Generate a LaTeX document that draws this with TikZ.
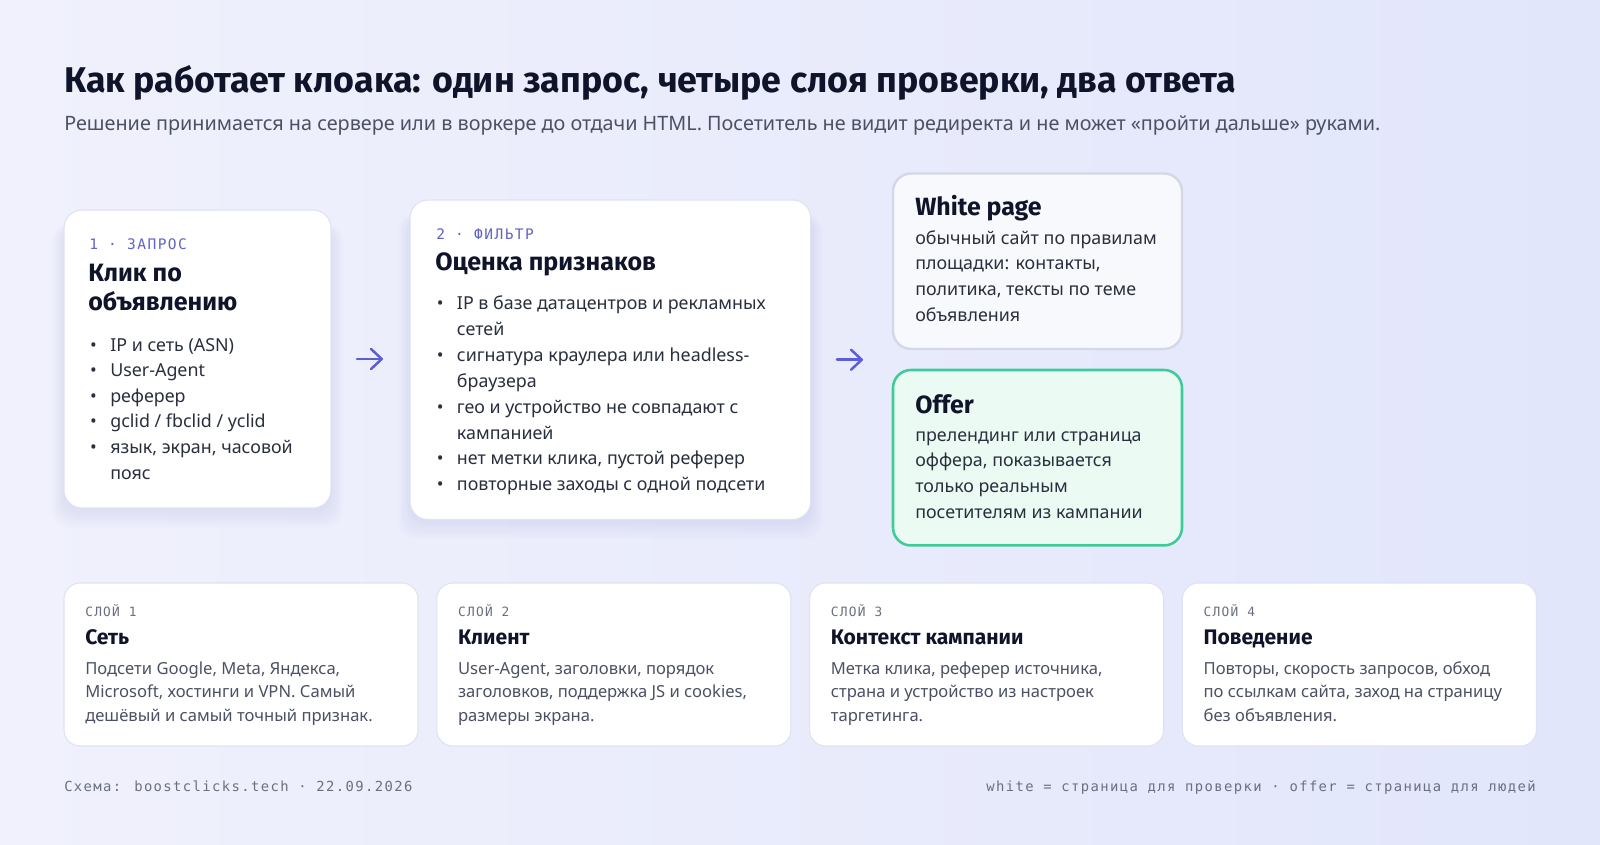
\documentclass[tikz,border=0pt]{standalone}
\usepackage{fontspec}
\setmainfont{Noto Sans}
\setmonofont{DejaVu Sans Mono}
\newfontfamily\headfont{Fira Sans}
\newfontfamily\labelmono[LetterSpace=10]{DejaVu Sans Mono}
\usetikzlibrary{positioning,arrows.meta}

\definecolor{bgleft}{HTML}{F0F1FC}
\definecolor{bgright}{HTML}{E2E6FB}
\definecolor{ink}{HTML}{10142A}
\definecolor{bodyc}{HTML}{2A2F3E}
\definecolor{mutedc}{HTML}{4B5163}
\definecolor{grayc}{HTML}{6B7080}
\definecolor{accent}{HTML}{5B5ED6}
\definecolor{labelc}{HTML}{6064C6}
\definecolor{cardline}{HTML}{DFE2F1}
\definecolor{whitefill}{HTML}{F8F9FD}
\definecolor{whiteline}{HTML}{D4D7E4}
\definecolor{offerfill}{HTML}{EBFBF3}
\definecolor{offerline}{HTML}{3DCB98}
\definecolor{shadowc}{HTML}{5A62A8}

\newcommand{\bul}{\llap{\textbullet\hspace{10pt}}}

\tikzset{
  card/.style={draw=cardline, line width=0.8pt, fill=white, rounded corners=13.5pt,
    anchor=north west, inner sep=0pt, outer sep=0pt},
  txt/.style={anchor=base west, inner sep=0pt},
  headline/.style={txt, text=ink, font=\headfont\bfseries\fontsize{26.8}{30}\selectfont},
  subline/.style={txt, text=mutedc, font=\fontsize{14.85}{17}\selectfont},
  steplabel/.style={txt, text=labelc, font=\labelmono\fontsize{10.9}{12}\selectfont},
  cardtitle/.style={txt, text=ink, font=\headfont\bfseries\fontsize{18.8}{21}\selectfont},
  bodytxt/.style={txt, text=bodyc, font=\fontsize{13.4}{16}\selectfont},
  outtitle/.style={txt, text=ink, font=\headfont\bfseries\fontsize{18.7}{21}\selectfont},
  layerlabel/.style={txt, text=grayc, font=\labelmono\fontsize{9.6}{12}\selectfont},
  layertitle/.style={txt, text=ink, font=\headfont\bfseries\fontsize{15.8}{18}\selectfont},
  layertxt/.style={txt, text=mutedc, font=\fontsize{12.45}{14}\selectfont},
  foot/.style={inner sep=0pt, text=grayc, font=\labelmono\fontsize{10.4}{12}\selectfont},
  flow/.style={draw=accent, line width=1.9pt, line cap=round,
    -{Straight Barb[length=8pt,width=15pt,round]}}
}

\begin{document}
\begin{tikzpicture}[x=0.75pt,y=-0.75pt]

\shade[left color=bgleft, right color=bgright] (0,0) rectangle (1600,845);
\useasboundingbox (0,0) rectangle (1600,845);

% heading
\node[headline] (head) at (64,93) {Как работает клоака: один запрос, четыре слоя проверки, два ответа};
\node[subline] (sub) at (64,131) {Решение принимается на сервере или в воркере до отдачи HTML. Посетитель не видит редиректа и не может «пройти дальше» руками.};

% soft shadows under the two step cards
\foreach \xa/\ya/\xb/\yb in {64/210/331/508, 410/200/810.7/518.5}
  \foreach \k in {1,...,8}
    \fill[shadowc, opacity=0.013, rounded corners=14pt] (\xa-1.5*\k,\ya+14) rectangle (\xb+1.5*\k,\yb+3+2.2*\k);

% step 1
\node[card, minimum width=200.25pt, minimum height=223.5pt] (req) at (64,210) {};
\node[steplabel] (reqlab) at (89,249) {1 · ЗАПРОС};
\node[cardtitle] (reqt1) at (88,281.7) {Клик по};
\node[cardtitle] (reqt2) at (88,310) {объявлению};
\foreach \t [count=\i from 0] in {\bul IP и сеть (ASN), \bul User-Agent, \bul реферер,
    \bul gclid / fbclid / yclid, {\bul язык, экран, часовой}, пояс}
  \node[bodytxt] (req\i) at (110,351+25.6*\i) {\t};

% step 2
\node[card, minimum width=300.5pt, minimum height=239.6pt] (filt) at (410,200) {};
\node[steplabel] (filtlab) at (436,239) {2 · ФИЛЬТР};
\node[cardtitle] (filtt) at (435,270) {Оценка признаков};
\foreach \t [count=\i from 0] in {\bul IP в базе датацентров и рекламных, сетей,
    \bul сигнатура краулера или headless-, браузера,
    \bul гео и устройство не совпадают с, кампанией,
    {\bul нет метки клика, пустой реферер}, \bul повторные заходы с одной подсети}
  \node[bodytxt] (filt\i) at (456.7,309.5+25.9*\i) {\t};

% outcomes
\node[card, fill=whitefill, draw=whiteline, line width=1.8pt, minimum width=216.75pt, minimum height=131.6pt] (white) at (893,173.5) {};
\node[outtitle] (whitet) at (915,215.7) {White page};
\foreach \t [count=\i from 0] in {обычный сайт по правилам, {площадки: контакты,},
    {политика, тексты по теме}, объявления}
  \node[bodytxt] (white\i) at (915,244+25.8*\i) {\t};

\node[card, fill=offerfill, draw=offerline, line width=1.9pt, minimum width=216.75pt, minimum height=131.6pt] (offer) at (893,370) {};
\node[outtitle] (offert) at (915,413) {Offer};
\foreach \t [count=\i from 0] in {прелендинг или страница, {оффера, показывается},
    только реальным, посетителям из кампании}
  \node[bodytxt] (offer\i) at (915,441+25.8*\i) {\t};

\coordinate (fork) at (893,359.5);
\draw[flow, shorten <=19.5pt, shorten >=20.25pt] (req.east) -- (req.east -| filt.west);
\draw[flow, shorten <=19.7pt, shorten >=22.5pt] (filt.east) -- (filt.east -| fork);

% four layers
\foreach \h/\a/\b/\c [count=\k from 0] in {
    Сеть/{Подсети Google, Meta, Яндекса,}/{Microsoft, хостинги и VPN. Самый}/{дешёвый и самый точный признак.},
    Клиент/{User-Agent, заголовки, порядок}/{заголовков, поддержка JS и cookies,}/{размеры экрана.},
    Контекст кампании/{Метка клика, реферер источника,}/страна и устройство из настроек/таргетинга.,
    Поведение/{Повторы, скорость запросов, обход}/{по ссылкам сайта, заход на страницу}/без объявления.}
{
  \node[card, rounded corners=12pt, minimum width=265.5pt, minimum height=122.25pt] (layer\k) at (64+372.8*\k,583) {};
  \node[layerlabel] (layer\k lab) at (85+372.8*\k,616) {СЛОЙ \the\numexpr\k+1\relax};
  \node[layertitle] (layer\k t) at (85+372.8*\k,644) {\h};
  \node[layertxt] (layer\k a) at (85+372.8*\k,674) {\a};
  \node[layertxt] (layer\k b) at (85+372.8*\k,697.5) {\b};
  \node[layertxt] (layer\k c) at (85+372.8*\k,721) {\c};
}

% footer
\node[foot, anchor=base west] (src) at (64,791) {Схема: boostclicks.tech · 22.09.2026};
\node[foot, anchor=base east] (legend) at (1536,791) {white = страница для проверки · offer = страница для людей};

\end{tikzpicture}
\end{document}
